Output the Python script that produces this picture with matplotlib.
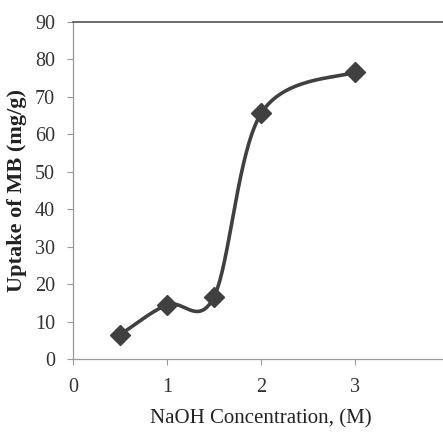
import numpy as np
import matplotlib
matplotlib.use("Agg")
import matplotlib.pyplot as plt

# values
naoh = [0.5, 1.0, 1.5, 2.0, 3.0]
uptake = [6.5, 14.5, 16.7, 65.6, 76.7]
xticks = [0, 1, 2, 3]
yticks = [0, 10, 20, 30, 40, 50, 60, 70, 80, 90]


def smooth(x, y, n=60):
    # excel-like smoothed line: cubic bezier through each pair of points
    p = np.column_stack([x, y]).astype(float)
    ext = np.vstack([p[0], p, p[-1]])
    t = np.linspace(0, 1, n)[:, None]
    out = []
    for i in range(len(p) - 1):
        p0, p1 = p[i], p[i + 1]
        c1 = p0 + (ext[i + 2] - ext[i]) / 6
        c2 = p1 - (ext[i + 3] - ext[i + 1]) / 6
        seg = ((1 - t) ** 3) * p0 + 3 * ((1 - t) ** 2) * t * c1 \
            + 3 * (1 - t) * t ** 2 * c2 + t ** 3 * p1
        out.append(seg)
    out = np.vstack(out)
    return out[:, 0], out[:, 1]


plt.rcParams['font.family'] = ['Liberation Serif', 'DejaVu Serif']

fig = plt.figure(figsize=(4.43, 4.40), dpi=100)
ax = fig.add_axes([0.165, 0.184, 0.849, 0.766])

col = '#404040'
sx, sy = smooth(naoh, uptake)
ax.plot(sx, sy, color=col, lw=2.6, solid_capstyle='round')
ax.plot(naoh, uptake, ls='none', marker='D', ms=10, color=col)

ax.set_xlim(0, 4)
ax.set_ylim(0, 90)
ax.set_xticks(xticks)
ax.set_yticks(yticks)
ax.tick_params(labelsize=14.5, colors='#333333', length=4, width=0.8)
ax.tick_params(axis='both', color='#999999')
ax.tick_params(axis='x', pad=10)
ax.tick_params(axis='y', pad=9)

for s in ['left', 'bottom']:
    ax.spines[s].set_color('#999999')
    ax.spines[s].set_linewidth(0.9)
ax.spines['top'].set_color('#555555')
ax.spines['top'].set_linewidth(1.2)
ax.spines['right'].set_visible(False)

ax.set_xlabel('NaOH Concentration, (M)', fontsize=15, color='#222222')
ax.set_ylabel('Uptake of MB (mg/g)', fontsize=16, color='#222222',
              fontweight='bold')
ax.xaxis.set_label_coords(0.5, -0.15)
ax.yaxis.set_label_coords(-0.122, 0.5)

fig.savefig('out.png', dpi=100)
